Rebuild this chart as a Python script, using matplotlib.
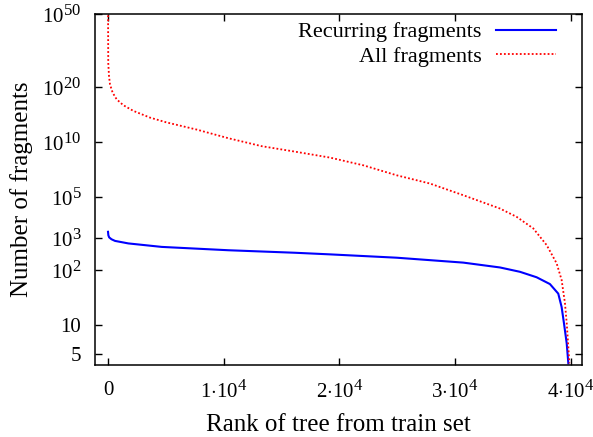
import numpy as np
import matplotlib
matplotlib.use('Agg')
import matplotlib.pyplot as plt
import matplotlib._mathtext as mathtext_internal
from matplotlib.ticker import FixedLocator, FixedFormatter

plt.rcParams['font.family'] = ['Liberation Serif', 'DejaVu Serif']
plt.rcParams['mathtext.fontset'] = 'custom'
plt.rcParams['mathtext.rm'] = 'Liberation Serif'
plt.rcParams['mathtext.it'] = 'Liberation Serif:italic'
# gnuplot-style exponents are bigger than the mathtext default
mathtext_internal.SHRINK_FACTOR = 0.8

# rank of tree vs. log10(number of fragments)
rank_all = [0, 20, 86, 173, 400, 750, 1320, 2190, 3630, 5070, 7670, 10400, 13280,
            16160, 19190, 22070, 24950, 27830, 30710, 33880, 35320, 36760, 37920,
            38780, 39210, 39500, 39650, 39790, 39880]
log_all = [60, 27.0, 22.9, 20.6, 18.6, 17.1, 15.9, 14.8, 13.6, 12.8, 11.7, 10.5, 9.5,
           8.87, 8.23, 7.47, 6.59, 5.94, 5.13, 4.34, 3.91, 3.38, 2.74,
           2.18, 1.77, 1.32, 1.03, 0.764, 0.621]

rank_rec = [0, 30, 100, 300, 605, 1755, 4640, 10400, 16160, 19190, 24950, 30710,
            33880, 35610, 37050, 38200, 38920, 39210, 39410, 39650, 39790]
log_rec = [3.24, 3.10, 3.02, 2.95, 2.89, 2.80, 2.68, 2.57, 2.49, 2.44, 2.34, 2.20,
           2.07, 1.96, 1.83, 1.68, 1.49, 1.26, 1.03, 0.798, 0.621]

ytick_vals = [5, 10, 1e2, 1e3, 1e5, 1e10, 1e20, 1e50]
ytick_labels = ['5', '10', r'$10^{2}$', r'$10^{3}$', r'$10^{5}$', r'$10^{10}$', r'$10^{20}$', r'$10^{50}$']
xtick_vals = [0, 10000, 20000, 30000, 40000]
xtick_labels = ['0', r'$1{\cdot}10^{4}$', r'$2{\cdot}10^{4}$', r'$3{\cdot}10^{4}$', r'$4{\cdot}10^{4}$']


# double-log y axis
def fwd(y):
    y = np.asarray(y, dtype=float)
    with np.errstate(divide='ignore', invalid='ignore'):
        return np.log10(np.log10(np.clip(y, 1.0001, None)))


def inv(t):
    t = np.clip(np.asarray(t, dtype=float), -5, 2.45)
    return 10 ** (10 ** t)


fig = plt.figure(figsize=(5.93, 4.37), dpi=100)
ax = fig.add_axes([0.1607, 0.164, 0.8213, 0.804])

ax.plot(rank_rec, 10 ** np.array(log_rec, dtype=float), color='#0000ff', lw=1.5,
        label='Recurring fragments')
ax.plot(rank_all, 10 ** np.array(log_all, dtype=float), color='#ff0000', lw=1.3,
        linestyle=(0, (1, 1.2)), label='All fragments')

ax.set_yscale('function', functions=(fwd, inv))
ax.set_ylim(4.03, 1e50)
ax.set_xlim(-1100, 41000)

ax.yaxis.set_major_locator(FixedLocator(ytick_vals))
ax.yaxis.set_major_formatter(FixedFormatter(ytick_labels))
ax.yaxis.set_minor_locator(FixedLocator([]))
ax.xaxis.set_major_locator(FixedLocator(xtick_vals))
ax.xaxis.set_major_formatter(FixedFormatter(xtick_labels))

ax.tick_params(direction='in', length=5, width=1, top=True, right=True, labelsize=15)
ax.tick_params(axis='y', pad=10)
ax.tick_params(axis='x', pad=11)
for s in ax.spines.values():
    s.set_linewidth(1.1)

ax.set_xlabel('Rank of tree from train set', fontsize=18, labelpad=8)
ax.set_ylabel('Number of fragments', fontsize=18, labelpad=7)

ax.legend(loc='upper right', bbox_to_anchor=(0.9645, 1.003), frameon=False,
          markerfirst=False, fontsize=16, handlelength=2.7, handletextpad=0.65,
          labelspacing=0.17, borderaxespad=0)

fig.savefig('out.png', dpi=100)
